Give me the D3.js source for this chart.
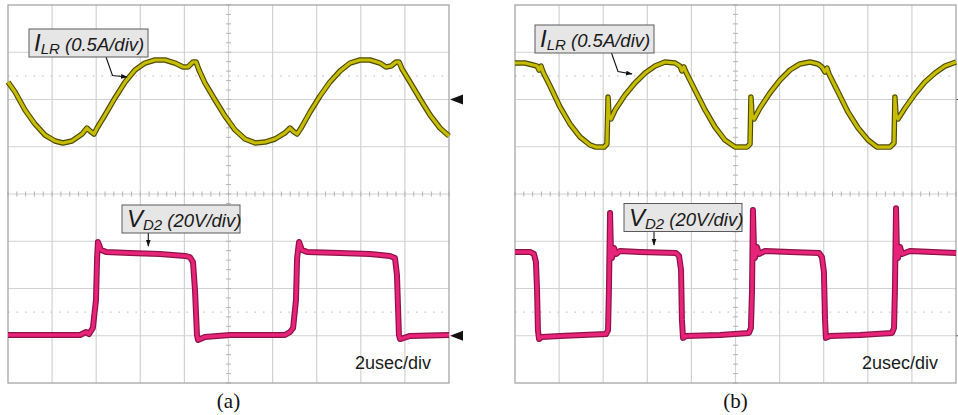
<!DOCTYPE html>
<html>
<head>
<meta charset="utf-8">
<script src="https://cdn.jsdelivr.net/npm/d3@7"></script>
<style>
  body { margin: 0; background: #fff; }
  svg { display: block; }
  .lbl { font-family: "Liberation Sans", Arial, sans-serif; font-style: italic; fill: #1a1a1a; }
  .scale { font-family: "Liberation Sans", Arial, sans-serif; font-size: 18px; fill: #1a1a1a; }
  .cap { font-family: "Liberation Serif", "Times New Roman", serif; font-size: 21px; fill: #111; }
</style>
</head>
<body>
<svg id="chart" width="958" height="415"></svg>
<script>
// time in usec (2 usec/div), current in A (0.5 A/div), voltage in V (20 V/div)

// (a) resonant inductor current
const aIlrTime = [0.00, 0.32, 0.77, 1.22, 1.68, 2.13, 2.49, 2.90, 3.36, 3.58, 3.72, 3.90, 4.04, 4.40, 4.85,
  5.31, 5.76, 6.21, 6.67, 7.12, 7.57, 7.94, 8.16, 8.39, 8.53, 8.66, 8.93, 9.39, 9.84, 10.30, 10.75,
  11.21, 11.66, 12.11, 12.56, 12.79, 12.97, 13.11, 13.29, 13.70, 14.15, 14.60, 15.06, 15.51, 15.96,
  16.42, 16.87, 17.14, 17.37, 17.60, 17.73, 17.87, 18.23, 18.69, 19.14, 19.59, 20.00];
const aIlr = [0.185, 0.079, -0.111, -0.259, -0.376, -0.439, -0.460, -0.439, -0.365, -0.302, -0.333, -0.365,
  -0.302, -0.164, 0.016, 0.185, 0.312, 0.386, 0.418, 0.418, 0.386, 0.344, 0.344, 0.397, 0.397, 0.312,
  0.175, -0.005, -0.175, -0.323, -0.418, -0.460, -0.450, -0.418, -0.354, -0.302, -0.344, -0.365, -0.302,
  -0.132, 0.037, 0.185, 0.302, 0.386, 0.418, 0.418, 0.386, 0.344, 0.354, 0.397, 0.397, 0.323, 0.185,
  0.005, -0.164, -0.302, -0.386];

// (a) diode D2 voltage
const aVdTime = [0.00, 3.27, 3.54, 3.67, 3.85, 3.99, 4.04, 4.08, 4.22, 4.44, 5.53, 6.89, 8.03, 8.25, 8.39,
  8.48, 8.57, 8.62, 8.93, 10.07, 12.56, 12.79, 12.93, 13.06, 13.11, 13.20, 13.33, 13.56, 15.06, 16.42,
  17.32, 17.55, 17.64, 17.73, 17.78, 18.23, 20.00];
const aVd = [0.3, 0.3, 1.6, 0.7, 3.3, 15.1, 32.9, 39.7, 36.3, 35.5, 35.0, 34.6, 33.8, 33.3, 31.2, 19.4, 0.3,
  -1.8, -0.5, 0.3, 0.3, 1.6, 3.3, 15.1, 32.9, 39.7, 36.3, 35.5, 35.0, 34.6, 33.8, 32.9, 25.7, 0.3, -1.4,
  -0.1, 0.3];

// (b) resonant inductor current
const bIlrTime = [0.00, 0.45, 0.82, 1.00, 1.09, 1.18, 1.27, 1.59, 2.04, 2.49, 2.95, 3.40, 3.67, 4.04, 4.17,
  4.22, 4.26, 4.35, 4.54, 4.99, 5.44, 5.90, 6.35, 6.80, 7.26, 7.48, 7.57, 7.66, 7.75, 8.16, 8.62, 9.07,
  9.52, 9.98, 10.52, 10.66, 10.70, 10.75, 10.84, 11.11, 11.56, 12.02, 12.47, 12.92, 13.38, 13.74, 13.92,
  14.06, 14.15, 14.24, 14.65, 15.10, 15.56, 16.01, 16.42, 17.01, 17.19, 17.23, 17.28, 17.37, 17.69,
  18.14, 18.59, 19.05, 19.50, 20.00];
const bIlr = [0.386, 0.386, 0.365, 0.354, 0.312, 0.354, 0.291, 0.143, -0.079, -0.259, -0.397, -0.481,
  -0.503, -0.503, -0.471, 0.026, -0.164, -0.206, -0.111, 0.048, 0.175, 0.280, 0.354, 0.397, 0.386, 0.354,
  0.302, 0.344, 0.291, 0.101, -0.111, -0.291, -0.429, -0.503, -0.503, -0.471, 0.026, -0.164, -0.206,
  -0.090, 0.069, 0.206, 0.312, 0.376, 0.397, 0.376, 0.344, 0.291, 0.333, 0.270, 0.079, -0.132, -0.302,
  -0.429, -0.503, -0.503, -0.460, 0.026, -0.164, -0.206, -0.090, 0.058, 0.185, 0.280, 0.354, 0.397];

// (b) diode D2 voltage
const bVdTime = [0.00, 0.68, 0.86, 0.95, 1.00, 1.04, 1.09, 1.22, 2.04, 4.13, 4.22, 4.26, 4.31, 4.35, 4.40,
  4.49, 4.58, 4.76, 5.67, 7.30, 7.44, 7.53, 7.57, 7.62, 7.75, 9.30, 10.61, 10.70, 10.75, 10.79, 10.84,
  10.88, 10.97, 11.07, 11.34, 12.47, 13.79, 13.92, 14.01, 14.06, 14.10, 14.29, 15.65, 17.10, 17.19,
  17.23, 17.28, 17.32, 17.37, 17.46, 17.55, 17.91, 20.00];
const bVd = [35.5, 35.5, 34.6, 31.2, 19.4, 2.4, -1.4, -0.5, -0.1, 0.7, 2.4, 19.4, 52.0, 36.3, 32.9, 37.2,
  34.6, 35.9, 35.5, 35.0, 33.8, 27.8, 6.7, -0.9, -0.1, 0.3, 1.2, 3.3, 19.4, 53.2, 36.3, 32.9, 37.6, 34.6,
  35.9, 35.5, 35.0, 33.3, 27.0, 6.7, -0.9, -0.1, 0.3, 1.2, 3.3, 19.4, 54.0, 36.3, 32.9, 37.6, 34.6, 35.9,
  35.0];

const captions = ["(a)", "(b)"];
const timeLabel = "2usec/div";

const svg = d3.select("#chart");
const plotTop = 5, plotBottom = 383, plotW = 441;
const y = d3.scaleLinear().domain([-4, 4]).range([plotBottom, plotTop]);
// channel 1 ground at +2 div, channel 2 ground at -3 div
const yIlr = (v) => y(2 + v / 0.5);
const yVd = (v) => y(-3 + v / 20);

const panels = [
  { left: 8, ilrT: aIlrTime, ilr: aIlr, vdT: aVdTime, vd: aVd, caption: captions[0], bigMarker: true,
    ilrBox: [29, 29, 119, 28], ilrArrow: [[106, 57], [112.5, 75.5], [127, 77]],
    vdBox: [122, 205, 118, 28], vdArrow: [[148.3, 233], [148.3, 246]] },
  { left: 515, ilrT: bIlrTime, ilr: bIlr, vdT: bVdTime, vd: bVd, caption: captions[1], bigMarker: false,
    ilrBox: [535, 25, 119, 28], ilrArrow: [[611.5, 53], [618, 71.5], [632, 74]],
    vdBox: [624, 203.5, 118, 28], vdArrow: [[654, 231.5], [654, 245]] },
];

svg.append("defs").append("marker")
  .attr("id", "head")
  .attr("viewBox", "0 0 10 10")
  .attr("refX", 9).attr("refY", 5)
  .attr("markerWidth", 6).attr("markerHeight", 6)
  .attr("orient", "auto")
  .append("path").attr("d", "M0,1.5 L10,5 L0,8.5 Z").attr("fill", "#111");

panels.forEach(drawPanel);

function drawPanel(p) {
  const x = d3.scaleLinear().domain([0, 20]).range([p.left, p.left + plotW]);
  const g = svg.append("g");

  // grid
  g.selectAll(".vg").data(d3.range(2, 20, 2)).join("line")
    .attr("x1", (d) => x(d)).attr("x2", (d) => x(d))
    .attr("y1", plotTop).attr("y2", plotBottom)
    .attr("stroke", "#d2d2d2").attr("stroke-width", 1.2);
  g.selectAll(".hg").data(d3.range(-3, 4)).join("line")
    .attr("x1", x(0)).attr("x2", x(20))
    .attr("y1", (d) => y(d)).attr("y2", (d) => y(d))
    .attr("stroke", "#d2d2d2").attr("stroke-width", 1.2);

  // dotted reference levels
  g.selectAll(".dot").data([2.5, -2.5]).join("line")
    .attr("x1", x(0)).attr("x2", x(20))
    .attr("y1", (d) => y(d)).attr("y2", (d) => y(d))
    .attr("stroke", "#c8c8c8").attr("stroke-width", 1.2)
    .attr("stroke-dasharray", "1.5,7");

  // center crosshair ticks
  g.selectAll(".ty").data(d3.range(-4, 4.001, 0.2)).join("line")
    .attr("x1", x(10) - 2.5).attr("x2", x(10) + 2.5)
    .attr("y1", (d) => y(d)).attr("y2", (d) => y(d))
    .attr("stroke", "#b4b4b4");
  g.selectAll(".tx").data(d3.range(0, 20.001, 0.4)).join("line")
    .attr("x1", (d) => x(d)).attr("x2", (d) => x(d))
    .attr("y1", y(0) - 2.5).attr("y2", y(0) + 2.5)
    .attr("stroke", "#b4b4b4");

  g.append("rect")
    .attr("x", x(0)).attr("y", plotTop)
    .attr("width", plotW).attr("height", plotBottom - plotTop)
    .attr("fill", "none").attr("stroke", "#a6a6a6").attr("stroke-width", 1.3);

  // traces
  const lineI = d3.line().x((d) => x(d[0])).y((d) => yIlr(d[1]));
  const lineV = d3.line().x((d) => x(d[0])).y((d) => yVd(d[1]));
  const iData = d3.zip(p.ilrT, p.ilr);
  const vData = d3.zip(p.vdT, p.vd);

  g.append("path").attr("d", lineI(iData)).attr("fill", "none")
    .attr("stroke", "#4f4a00").attr("stroke-width", 5.5).attr("stroke-linejoin", "round");
  g.append("path").attr("d", lineI(iData)).attr("fill", "none")
    .attr("stroke", "#c6bd00").attr("stroke-width", 3.2).attr("stroke-linejoin", "round");

  g.append("path").attr("d", lineV(vData)).attr("fill", "none")
    .attr("stroke", "#8e1248").attr("stroke-width", 6).attr("stroke-linejoin", "round");
  g.append("path").attr("d", lineV(vData)).attr("fill", "none")
    .attr("stroke", "#e8237a").attr("stroke-width", 3.5).attr("stroke-linejoin", "round");

  // ground markers on the right
  const mx = x(20);
  if (p.bigMarker) {
    [yIlr(0), yVd(0)].forEach((my) => {
      g.append("path")
        .attr("d", `M${mx + 1},${my} L${mx + 14},${my - 5} L${mx + 14},${my + 5} Z`)
        .attr("fill", "#111");
    });
  } else {
    [yIlr(0), yVd(0)].forEach((my) => {
      g.append("line").attr("x1", mx + 0.5).attr("x2", mx + 2)
        .attr("y1", my).attr("y2", my).attr("stroke", "#333");
    });
  }

  // channel labels
  drawLabel(g, p.ilrBox, "I", "LR", " (0.5A/div)", p.ilrArrow);
  drawLabel(g, p.vdBox, "V", "D2", " (20V/div)", p.vdArrow);

  g.append("text").attr("class", "scale")
    .attr("x", x(20) - 94).attr("y", 369)
    .text(timeLabel);

  g.append("text").attr("class", "cap")
    .attr("x", x(10)).attr("y", 408)
    .attr("text-anchor", "middle")
    .text(p.caption);
}

function drawLabel(g, box, main, sub, rest, arrow) {
  const [bx, by, bw, bh] = box;
  g.append("path")
    .attr("d", d3.line()(arrow))
    .attr("fill", "none").attr("stroke", "#111").attr("stroke-width", 1.1)
    .attr("marker-end", "url(#head)");
  g.append("rect")
    .attr("x", bx).attr("y", by).attr("width", bw).attr("height", bh)
    .attr("fill", "#e6e6e6").attr("stroke", "#5a5a5a").attr("stroke-width", 1);
  const t = g.append("text").attr("class", "lbl")
    .attr("x", bx + 5).attr("y", by + 22);
  t.append("tspan").attr("font-size", 24).text(main);
  t.append("tspan").attr("font-size", 15).attr("dy", 3).text(sub);
  t.append("tspan").attr("font-size", 18.5).attr("dy", -3).text(rest);
}
</script>
</body>
</html>
